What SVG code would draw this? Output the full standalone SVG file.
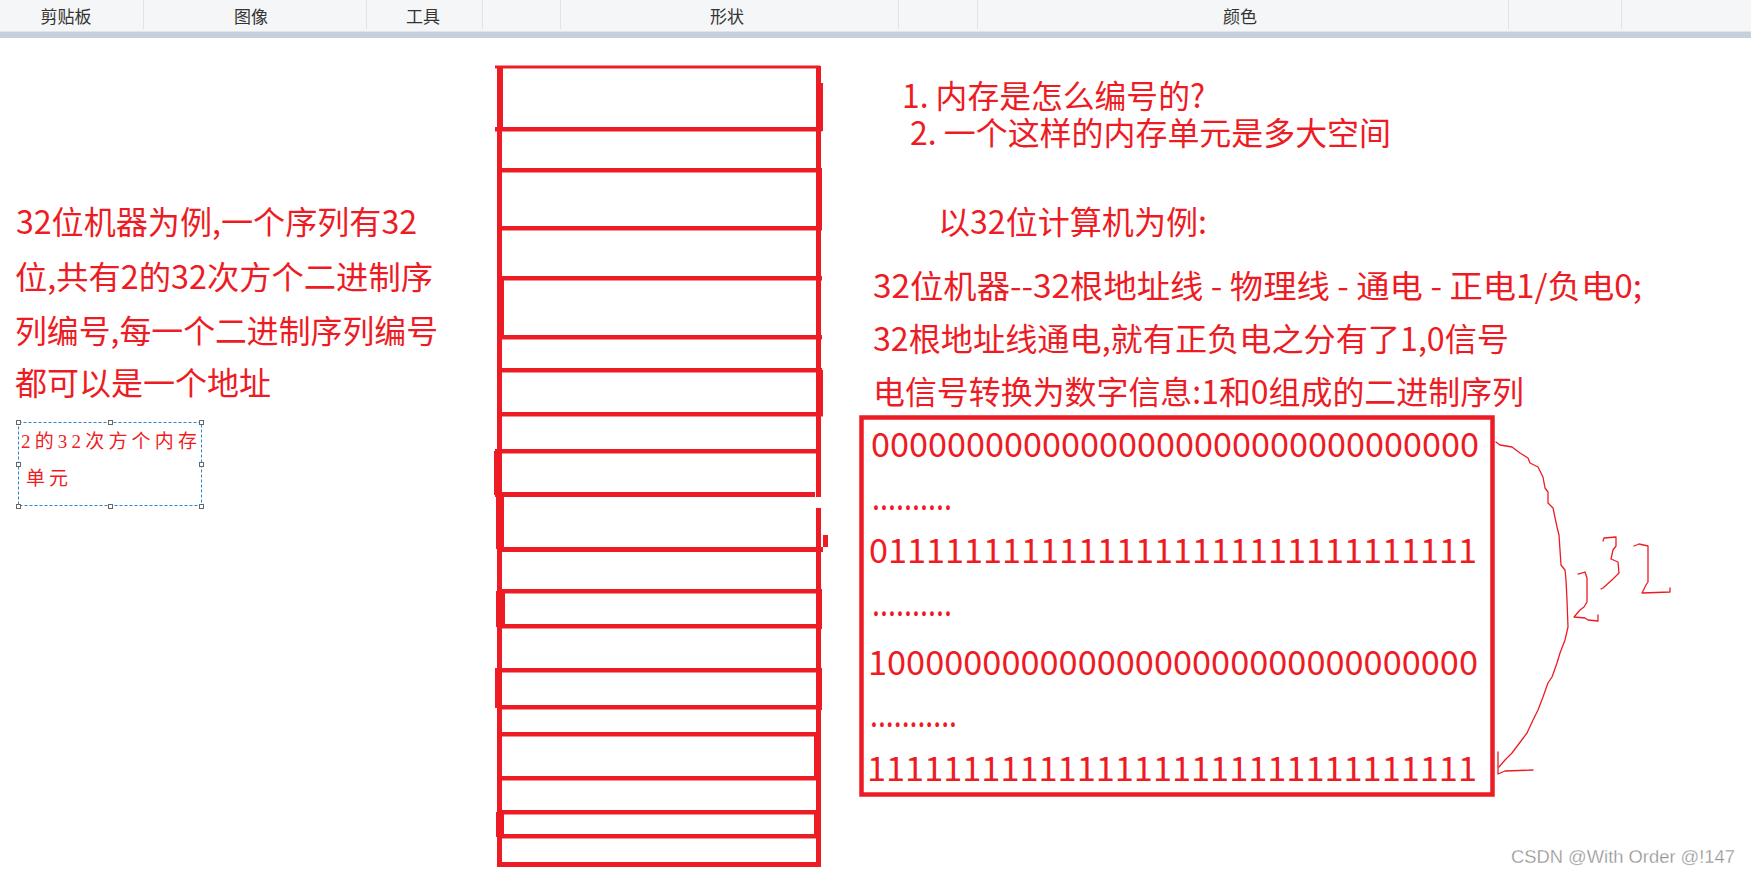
<svg xmlns="http://www.w3.org/2000/svg" width="1751" height="874" viewBox="0 0 1751 874">
<style>
.tb{font-family:"Noto Sans CJK SC","Noto Sans",sans-serif;font-size:17px;fill:#333;text-anchor:middle}
.sep{stroke:#e1e3e6;stroke-width:1}
.red{fill:#ed1c24}
.t{font-family:"Noto Sans CJK SC","Noto Sans",sans-serif;font-size:32px;fill:#ed1c24}
.b{font-family:"Noto Sans CJK SC","Noto Sans",sans-serif;font-size:34px;fill:#ed1c24}
.s{font-family:"Liberation Serif","Noto Sans CJK SC",serif;font-size:19px;fill:#ed1c24}
.hand{fill:none;stroke:#ed1c24;stroke-width:1.3;stroke-linejoin:round;stroke-linecap:round}
.h{fill:#fff;stroke:#666;stroke-width:1}
</style>
<rect width="1751" height="874" fill="#fff"/>
<g id="toolbar">
<rect x="0" y="0" width="1751" height="32" fill="#f5f6f7"/>
<rect x="0" y="31" width="1751" height="1" fill="#e2e4e8"/>
<rect x="0" y="32" width="1751" height="6" fill="#c8cfdc"/>
<line class="sep" x1="143.5" y1="0" x2="143.5" y2="29"/>
<line class="sep" x1="366.5" y1="0" x2="366.5" y2="29"/>
<line class="sep" x1="482.5" y1="0" x2="482.5" y2="29"/>
<line class="sep" x1="560.5" y1="0" x2="560.5" y2="29"/>
<line class="sep" x1="898.5" y1="0" x2="898.5" y2="29"/>
<line class="sep" x1="977.5" y1="0" x2="977.5" y2="29"/>
<line class="sep" x1="1508.5" y1="0" x2="1508.5" y2="29"/>
<line class="sep" x1="1621.5" y1="0" x2="1621.5" y2="29"/>
<text class="tb" x="66" y="23">剪贴板</text>
<text class="tb" x="251" y="23">图像</text>
<text class="tb" x="423" y="23">工具</text>
<text class="tb" x="727" y="23">形状</text>
<text class="tb" x="1240" y="23">颜色</text>
</g>
<g id="memory-column" class="red">
<!-- left vertical -->
<rect x="497" y="66" width="5" height="801"/>
<rect x="497" y="66" width="6" height="64"/>
<rect x="497" y="278" width="7" height="60"/>
<rect x="494" y="451" width="4" height="44"/>
<rect x="496" y="495" width="8" height="54"/>
<rect x="496" y="591" width="9" height="36"/>
<rect x="495" y="670" width="3" height="38"/>
<rect x="496" y="812" width="8" height="25"/>
<!-- right vertical -->
<rect x="816" y="66" width="5" height="431"/>
<rect x="816" y="508" width="5" height="359"/>
<rect x="817" y="83" width="6" height="48"/>
<rect x="816" y="170" width="6" height="60"/>
<rect x="816" y="370" width="7" height="46"/>
<rect x="816" y="591" width="6" height="38"/>
<rect x="816" y="670" width="6" height="40"/>
<rect x="814" y="734" width="7" height="46"/>
<rect x="814" y="812" width="7" height="25"/>
<rect x="823" y="535" width="5" height="12"/>
<!-- horizontals -->
<rect x="495" y="65.5" width="325" height="3"/>
<rect x="495" y="127" width="327" height="4.5"/>
<rect x="497" y="168" width="325" height="4.5"/>
<rect x="497" y="226" width="325" height="4.5"/>
<rect x="497" y="276" width="325" height="4.5"/>
<rect x="497" y="335" width="325" height="4.5"/>
<rect x="497" y="368" width="325" height="4.5"/>
<rect x="497" y="412" width="326" height="4.5"/>
<rect x="495" y="449" width="326" height="4.5"/>
<rect x="495" y="492" width="320" height="5"/>
<rect x="497" y="547" width="326" height="5"/>
<rect x="497" y="589" width="325" height="4.5"/>
<rect x="497" y="624" width="325" height="4.5"/>
<rect x="495" y="668" width="327" height="4.5"/>
<rect x="497" y="705" width="325" height="4.5"/>
<rect x="497" y="732" width="324" height="4.5"/>
<rect x="497" y="776" width="324" height="4.5"/>
<rect x="497" y="810" width="324" height="4.5"/>
<rect x="497" y="834" width="324" height="4.5"/>
<rect x="497" y="862" width="324" height="5"/>
</g>
<g id="left-text">
<text class="t" x="16" y="234" textLength="401" lengthAdjust="spacingAndGlyphs">32位机器为例,一个序列有32</text>
<text class="t" x="15" y="289" textLength="418" lengthAdjust="spacingAndGlyphs">位,共有2的32次方个二进制序</text>
<text class="t" x="15" y="343" textLength="423" lengthAdjust="spacingAndGlyphs">列编号,每一个二进制序列编号</text>
<text class="t" x="15" y="395" textLength="256" lengthAdjust="spacingAndGlyphs">都可以是一个地址</text>
</g>
<g id="unit-note">
<rect x="18.5" y="422.5" width="183" height="83" fill="none" stroke="#2a86d8" stroke-width="1" stroke-dasharray="3,2"/>
<rect class="h" x="16.5" y="420.5" width="4" height="4"/>
<rect class="h" x="108.5" y="420.5" width="4" height="4"/>
<rect class="h" x="199.5" y="420.5" width="4" height="4"/>
<rect class="h" x="16.5" y="462.5" width="4" height="4"/>
<rect class="h" x="199.5" y="462.5" width="4" height="4"/>
<rect class="h" x="16.5" y="504.5" width="4" height="4"/>
<rect class="h" x="108.5" y="504.5" width="4" height="4"/>
<rect class="h" x="199.5" y="504.5" width="4" height="4"/>
<text class="s" x="21" y="448" textLength="176" lengthAdjust="spacing">2的32次方个内存</text>
<text class="s" x="26" y="485" textLength="42" lengthAdjust="spacing">单元</text>
</g>
<g id="right-text">
<text class="t" x="902" y="108" textLength="303" lengthAdjust="spacingAndGlyphs">1. 内存是怎么编号的?</text>
<text class="t" x="910" y="145" textLength="481" lengthAdjust="spacingAndGlyphs">2. 一个这样的内存单元是多大空间</text>
<text class="t" x="938" y="234" textLength="269" lengthAdjust="spacingAndGlyphs">以32位计算机为例:</text>
<text class="t" x="873" y="298" textLength="769" lengthAdjust="spacingAndGlyphs">32位机器--32根地址线 - 物理线 - 通电 - 正电1/负电0;</text>
<text class="t" x="873" y="351" textLength="636" lengthAdjust="spacingAndGlyphs">32根地址线通电,就有正负电之分有了1,0信号</text>
<text class="t" x="873" y="404" textLength="651" lengthAdjust="spacingAndGlyphs">电信号转换为数字信息:1和0组成的二进制序列</text>
</g>
<g id="binary-box">
<rect x="861.5" y="417.5" width="631" height="377" fill="none" stroke="#ed1c24" stroke-width="4.5"/>
<text class="b" x="871" y="457" textLength="608" lengthAdjust="spacingAndGlyphs">00000000000000000000000000000000</text>
<text class="b" x="872" y="510" textLength="80" lengthAdjust="spacingAndGlyphs">..........</text>
<text class="b" x="869" y="563" textLength="608" lengthAdjust="spacingAndGlyphs">01111111111111111111111111111111</text>
<text class="b" x="872" y="616" textLength="80" lengthAdjust="spacingAndGlyphs">..........</text>
<text class="b" x="868" y="675" textLength="610" lengthAdjust="spacingAndGlyphs">10000000000000000000000000000000</text>
<text class="b" x="870" y="727" textLength="87" lengthAdjust="spacingAndGlyphs">...........</text>
<text class="b" x="867" y="781" textLength="610" lengthAdjust="spacingAndGlyphs">11111111111111111111111111111111</text>
</g>
<g id="connectors">
<polyline class="hand" points="1496,442 1500,445 1512,447 1520,453 1528,458 1530,463 1538,467 1543,477 1545,488 1548,492 1548,503 1553,508 1557,527 1559,535 1561,565 1565,570 1566,580 1567,600 1568,627 1565,640 1560,653 1557,663 1552,677 1548,683 1543,697 1538,710 1533,720 1527,733 1518,745 1512,753 1505,760 1499,767"/>
<polyline class="hand" points="1498,752 1498,774 1505,771 1533,770"/>
</g>
<g id="exponent-label">
<polyline class="hand" points="1578,574 1585,572 1587,578 1587,602 1584,607 1580,610 1574,617 1585,618 1588,620 1598,621 1598,615"/>
<polyline class="hand" points="1603,541 1604,538 1616,537 1616,546 1613,550 1611,559 1618,562 1619,573 1613,579 1603,588 1601,589"/>
<polyline class="hand" points="1634,546 1639,544 1648,546 1648,582 1646,585 1642,593 1670,592 1670,588"/>
</g>
<g id="watermark">
<text x="1511" y="863" font-family="Liberation Sans, Arial, sans-serif" font-size="18" fill="#8f8f8f" stroke="#fff" stroke-width="0.3" textLength="224" lengthAdjust="spacingAndGlyphs">CSDN @With Order @!147</text>
</g>
</svg>
